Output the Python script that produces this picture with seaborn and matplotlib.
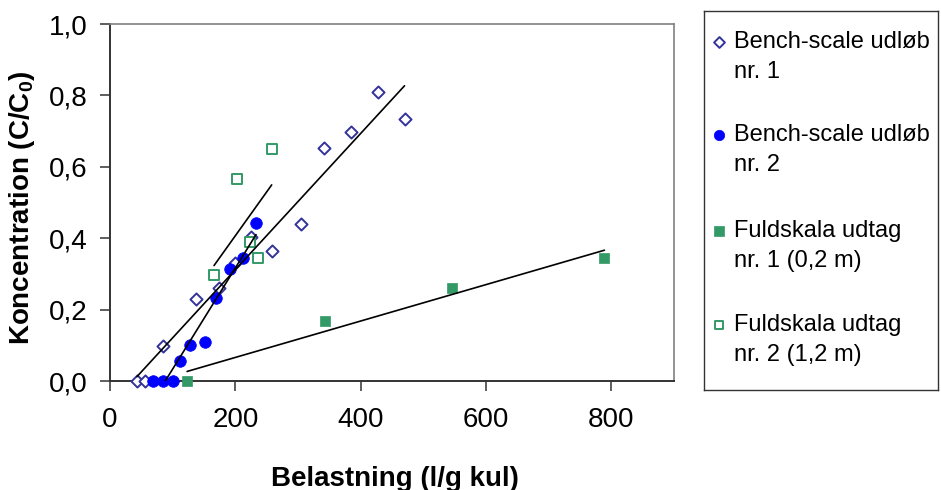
import matplotlib
matplotlib.use("Agg")
import matplotlib.pyplot as plt
import pandas as pd
import seaborn as sns

# Belastning (l/g kul) and Koncentration (C/C0) for each sampling series
bench1_x = [43, 56, 85, 137, 174, 200, 225, 259, 305, 342, 384, 427, 470]
bench1_y = [0.0, 0.0, 0.098, 0.231, 0.260, 0.330, 0.404, 0.364, 0.440, 0.654, 0.697, 0.809, 0.734]

bench2_x = [68, 84, 100, 111, 127, 151, 169, 191, 212, 233]
bench2_y = [0.0, 0.0, 0.0, 0.056, 0.100, 0.110, 0.232, 0.313, 0.345, 0.442]

full1_x = [123, 343, 545, 789]
full1_y = [0.0, 0.169, 0.260, 0.345]

full2_x = [166, 203, 258, 224, 236]
full2_y = [0.297, 0.566, 0.651, 0.389, 0.345]

series_lines1 = ["Bench-scale udløb", "Bench-scale udløb", "Fuldskala udtag", "Fuldskala udtag"]
series_lines2 = ["nr. 1", "nr. 2", "nr. 1 (0,2 m)", "nr. 2 (1,2 m)"]

x_ticks = [0, 200, 400, 600, 800]
x_tick_labels = ["0", "200", "400", "600", "800"]
y_ticks = [0.0, 0.2, 0.4, 0.6, 0.8, 1.0]
y_tick_labels = ["0,0", "0,2", "0,4", "0,6", "0,8", "1,0"]

sns.set_style("white")
plt.rcParams["font.family"] = ["Liberation Sans", "DejaVu Sans"]
plt.rcParams["text.color"] = "black"
plt.rcParams["axes.labelcolor"] = "black"
plt.rcParams["mathtext.fontset"] = "custom"
plt.rcParams["mathtext.rm"] = "Liberation Sans"
plt.rcParams["mathtext.bf"] = "Liberation Sans:bold"

NAVY = "#333399"
BLUE = "#0000FF"
GREEN = "#339966"

styles = [
    dict(marker="D", s=38, facecolor="white", edgecolor=NAVY, linewidth=1.4),
    dict(marker="o", s=70, facecolor=BLUE, edgecolor=BLUE, linewidth=0.5),
    dict(marker="s", s=58, facecolor=GREEN, edgecolor=GREEN, linewidth=0.5),
    dict(marker="s", s=46, facecolor="white", edgecolor=GREEN, linewidth=1.4),
]

frames = [
    pd.DataFrame({"x": bench1_x, "y": bench1_y}),
    pd.DataFrame({"x": bench2_x, "y": bench2_y}),
    pd.DataFrame({"x": full1_x, "y": full1_y}),
    pd.DataFrame({"x": full2_x, "y": full2_y}),
]

fig = plt.figure(figsize=(9.41, 4.90), dpi=100)
ax = fig.add_axes([110 / 941, 109 / 490, 564 / 941, 357 / 490])

for df, st in zip(frames, styles):
    sns.scatterplot(data=df, x="x", y="y", ax=ax, clip_on=False, zorder=3, legend=False, **st)

# Linear trend lines over each series' own range
for df in frames:
    sns.regplot(data=df, x="x", y="y", ax=ax, scatter=False, ci=None, truncate=True,
                line_kws=dict(color="black", linewidth=1.2, zorder=4))

ax.set_xlim(0, 900)
ax.set_ylim(0, 1.0)
ax.set_xticks(x_ticks)
ax.set_xticklabels(x_tick_labels)
ax.set_yticks(y_ticks)
ax.set_yticklabels(y_tick_labels)
ax.tick_params(axis="both", which="major", direction="out", length=7, width=1.1,
               color="#333333", labelsize=20, labelcolor="black")
ax.tick_params(axis="x", pad=12, bottom=True)
ax.tick_params(axis="y", pad=9, left=True)

for side in ("left", "bottom"):
    ax.spines[side].set_color("#333333")
    ax.spines[side].set_linewidth(1.4)
for side in ("top", "right"):
    ax.spines[side].set_color("#808080")
    ax.spines[side].set_linewidth(1.2)

ax.set_xlabel("Belastning (l/g kul)", fontsize=20, fontweight="bold", color="black")
ax.set_ylabel(r"Koncentration (C/C$_\mathbf{0}$)", fontsize=20, fontweight="bold", color="black")
ax.xaxis.set_label_coords((395 - 110) / 564, (381 - 465.5) / 357)
ax.yaxis.set_label_coords((37 - 110) / 564, (381 - 208) / 357)

# Legend panel on the right, laid out in pixel units
lax = fig.add_axes([704 / 941, 100 / 490, 234 / 941, 379 / 490])
lax.set_xlim(704, 938)
lax.set_ylim(390, 11)
lax.set_xticks([])
lax.set_yticks([])
lax.set_facecolor("white")
for sp in lax.spines.values():
    sp.set_color("#333333")
    sp.set_linewidth(1.0)

first_line_y = [42, 135, 231, 325]
for yy, st, l1, l2 in zip(first_line_y, styles, series_lines1, series_lines2):
    leg_st = dict(st)
    leg_st["s"] = st["s"] * 0.8
    lax.scatter([719], [yy], **leg_st)
    lax.text(734, yy, l1, fontsize=17, va="center", ha="left", color="black")
    lax.text(734, yy + 30, l2, fontsize=17, va="center", ha="left", color="black")

fig.savefig("out.png", dpi=100, facecolor="white")
